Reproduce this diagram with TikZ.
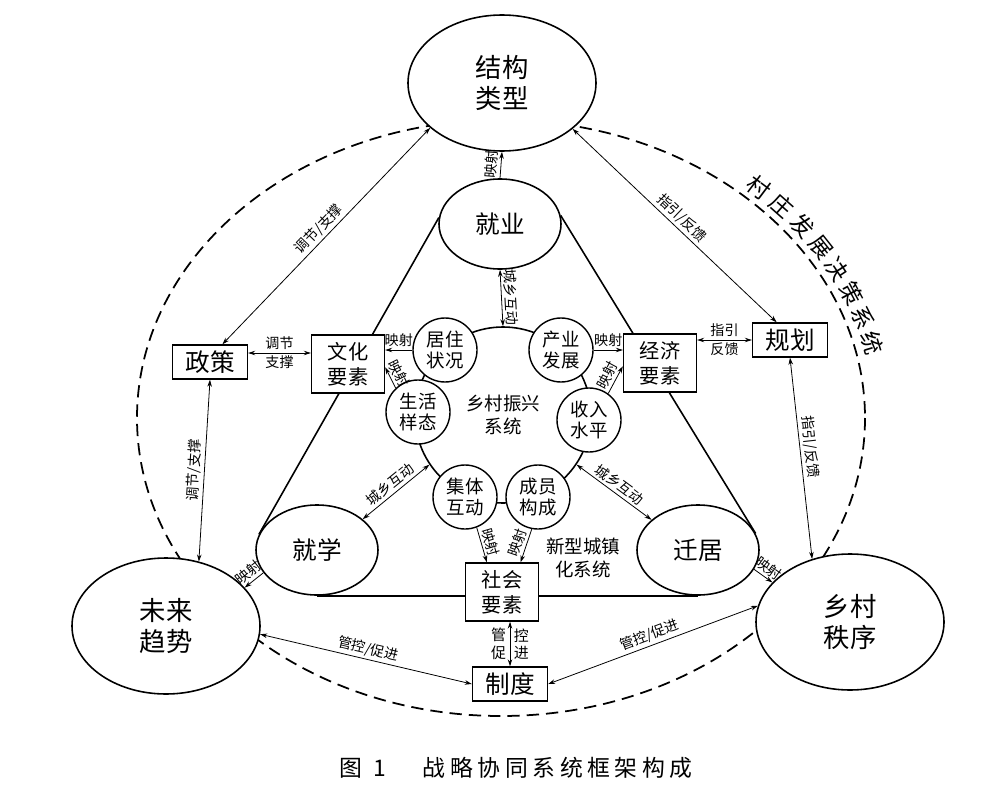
\documentclass[tikz,border=0pt]{standalone}
\usepackage{fontspec}
\setmainfont{Noto Sans CJK SC}
\newfontfamily\capfont[LetterSpace=20]{Noto Sans CJK SC}
\usetikzlibrary{shapes.geometric, arrows.meta, backgrounds}
\begin{document}
\begin{tikzpicture}
  [x=0.2mm, y=-0.2mm,
   bigell/.style={ellipse, draw=black, line width=0.9pt, fill=white, inner sep=0pt, minimum width=37.6mm, minimum height=27.2mm, align=center, font=\fontsize{15}{18}\selectfont},
   midell/.style={ellipse, draw=black, line width=0.9pt, fill=white, inner sep=0pt, minimum width=24.4mm, minimum height=18mm, font=\fontsize{14}{16}\selectfont},
   elem/.style={rectangle, draw=black, line width=0.8pt, fill=white, inner sep=0pt, minimum width=14.6mm, minimum height=11.6mm, align=center, font=\fontsize{11.5}{14}\selectfont},
   ctrl/.style={rectangle, draw=black, line width=0.8pt, fill=white, inner sep=0pt, minimum width=15mm, minimum height=6.8mm, font=\fontsize{14}{16}\selectfont},
   sub/.style={circle, draw=black, line width=0.8pt, fill=white, inner sep=0pt, minimum size=12.8mm, align=center, font=\fontsize{10.5}{12}\selectfont},
   link/.style={line width=0.45pt, {Stealth[length=4pt,width=2.6pt]}-{Stealth[length=4pt,width=2.6pt]}},
   maps/.style={line width=0.45pt, -{Stealth[length=4pt,width=2.6pt]}},
   lbl/.style={font=\fontsize{8}{9}\selectfont, inner sep=1.5pt},
   triline/.style={line width=0.9pt, draw=black}]

  \useasboundingbox (0,0) rectangle (1000,792);

  % Elipses grandes
  \node[bigell] (jiegou) at (502,83) {结构\\类型};
  \node[bigell] (weilai) at (166,626) {未来\\趋势};
  \node[bigell] (xiangcun) at (850,622) {乡村\\秩序};

  % Elipses del triángulo
  \node[midell] (jiuye) at (500,224) {就业};
  \node[midell] (jiuxue) at (317,550) {就学};
  \node[midell] (qianju) at (698,550) {迁居};

  % Sistema central
  \node[circle, draw=black, line width=0.9pt, minimum size=35.2mm, align=center, font=\fontsize{10.5}{13}\selectfont] (xczx) at (503,415) {乡村振兴\\系统};
  \node[sub] (jzzk) at (445,350) {居住\\状况};
  \node[sub] (cyfz) at (561,350) {产业\\发展};
  \node[sub] (shtz) at (418,412) {生活\\样态};
  \node[sub] (srsp) at (589,420) {收入\\水平};
  \node[sub] (jtdh) at (465,497) {集体\\互动};
  \node[sub] (cygc) at (538,497) {成员\\构成};

  % Cajas
  \node[elem] (wenhua) at (348,364) {文化\\要素};
  \node[elem] (jingji) at (660,363) {经济\\要素};
  \node[elem] (shehui) at (502,592) {社会\\要素};
  \node[ctrl] (zhengce) at (210,362) {政策};
  \node[ctrl] (guihua) at (790,340) {规划};
  \node[ctrl] (zhidu) at (510,684) {制度};

  \node[align=center, font=\fontsize{10.5}{13}\selectfont] (xxcz) at (583,558) {新型城镇\\化系统};

  % Fondo: elipse punteada y triángulo
  \begin{pgfonlayer}{background}
    \draw[line width=1pt, dash pattern=on 7pt off 4pt] (501,418) ellipse [x radius=364, y radius=298];
    \foreach \from/\to in {jiuye.174/jiuxue.165, jiuye.8/qianju.16, jiuxue.south/qianju.south}
      \draw[triline] (\from) -- (\to);
  \end{pgfonlayer}

  % Flechas largas
  \draw[link] (zhengce.55) -- node[lbl, sloped, above] (t1) {调节/支撑} (jiegou.212);
  \draw[link] (jiegou.-33) -- node[lbl, sloped, above] (t2) {指引/反馈} (guihua.127);
  \draw[link] (weilai.63) -- node[lbl, sloped, above] (t3) {调节/支撑} (zhengce.south);
  \draw[link] (guihua.south) -- node[lbl, sloped, above, pos=0.45] (t4) {指引/反馈} (xiangcun.121);
  \draw[link] (weilai.-5) -- node[lbl, sloped, above] (t5) {管控/促进} (zhidu.west);
  \draw[link] (zhidu.east) -- node[lbl, sloped, above] (t6) {管控/促进} (xiangcun.170);

  % Flechas cortas
  \coordinate (zc) at ([yshift=1.8mm]zhengce.east);
  \draw[link] (zc) -- node[lbl, above] (t7) {调节} node[lbl, below] (t8) {支撑} (zc -| wenhua.west);
  \draw[link] (guihua.west) -- node[lbl, above] (t9) {指引} node[lbl, below] (t10) {反馈} (guihua.west -| jingji.east);
  \draw[link] (zhidu.north) -- node[left, align=center, inner sep=2pt, font=\fontsize{8.5}{10}\selectfont] (g1) {管\\促}
    node[right, align=center, inner sep=2pt, font=\fontsize{8.5}{10}\selectfont] (g2) {控\\进} (zhidu.north |- shehui.south);

  % Mapeos
  \draw[maps] (jzzk.west) -- node[lbl, above] (m1) {映射} (jzzk.west -| wenhua.east);
  \draw[maps] (cyfz.east) -- node[lbl, above] (m2) {映射} (cyfz.east -| jingji.west);
  \foreach \from/\to/\n in {shtz.133/wenhua.-5/m3, srsp.54/jingji.185/m4, jtdh.-69/shehui.117/m5,
      cygc.-101/shehui.58/m6, jiuye.north/jiegou.south/m7, jiuxue.203/weilai.26/m8, qianju.-19/xiangcun.153/m9}
    \draw[maps] (\from) -- node[lbl, sloped, above] (\n) {映射} (\to);

  % Interacción urbano-rural
  \draw[link] (xczx.north) -- node[lbl, sloped, above] (c1) {城乡互动} (jiuye.south);
  \draw[link] (jiuxue.34) -- node[lbl, sloped, above] (c2) {城乡互动} (xczx.214);
  \draw[link] (xczx.-34) -- node[lbl, sloped, above] (c3) {城乡互动} (qianju.147);

  % Título curvo
  \foreach \ch [count=\i] in {村,庄,发,展,决,策,系,统} {
    \pgfmathsetmacro\t{47.5-(\i-1)*4.8}
    \pgfmathsetmacro\rot{atan2(-313*cos(\t), 382*sin(\t))}
    \node[rotate=\rot, font=\fontsize{13}{14}\selectfont] (sys\i) at ({501+382*cos(\t)}, {418-313*sin(\t)}) {\ch};
  }

  % Pie de figura
  \node[font=\capfont\fontsize{13}{15}\selectfont] (caption) at (516,768) {图\hspace{0.5em}1\hspace{1.6em}战略协同系统框架构成};
\end{tikzpicture}
\end{document}
